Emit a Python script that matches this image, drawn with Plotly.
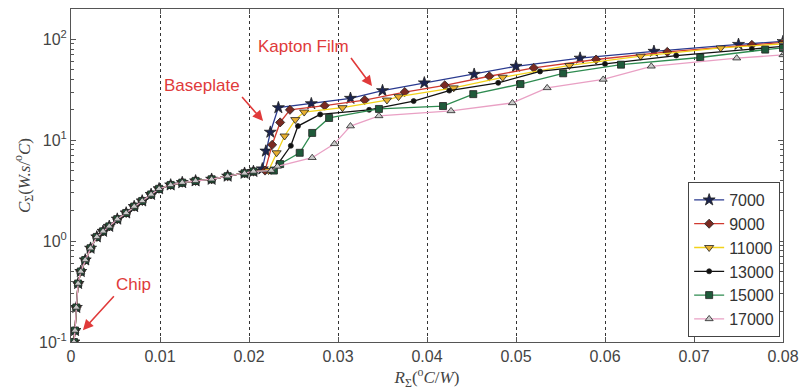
import plotly.graph_objects as go

# Shared early part of all curves (chip / plateau region)
common_x = [0.00033, 0.00045, 0.0006, 0.0008, 0.0011, 0.0016, 0.0022, 0.0029, 0.0036,
            0.0043, 0.0052, 0.0062, 0.0071, 0.008, 0.009, 0.0099, 0.0112, 0.0125,
            0.014, 0.0158, 0.0176, 0.0195, 0.0205]
common_y = [0.1, 0.13, 0.22, 0.38, 0.5, 0.65, 0.85, 1.1, 1.25,
            1.4, 1.65, 1.9, 2.2, 2.5, 2.9, 3.3, 3.6, 3.8,
            3.95, 4.1, 4.4, 4.7, 4.9]

names = ["7000", "9000", "11000", "13000", "15000", "17000"]

x_7000 = [0.0215, 0.0219, 0.0224, 0.0233, 0.027, 0.0314, 0.035, 0.0397, 0.0453, 0.05, 0.0572, 0.0655, 0.075, 0.08]
y_7000 = [5.2, 7.8, 12, 21, 23, 26, 31, 37, 45, 54, 65, 76, 89, 95]

x_9000 = [0.0218, 0.0226, 0.0235, 0.0246, 0.0285, 0.033, 0.0375, 0.042, 0.047, 0.052, 0.059, 0.067, 0.0765, 0.08]
y_9000 = [5.0, 9, 15, 20, 22, 25, 30, 35, 43, 52, 63, 75, 88, 93]

x_11000 = [0.0222, 0.0231, 0.024, 0.0252, 0.0262, 0.0305, 0.0355, 0.0368, 0.043, 0.0485, 0.056, 0.064, 0.073, 0.08]
y_11000 = [5.0, 7.5, 11, 16, 19, 21, 25, 27, 33, 42, 55, 68, 82, 90]

x_13000 = [0.0225, 0.0233, 0.0247, 0.0255, 0.028, 0.0335, 0.0385, 0.0425, 0.048, 0.0527, 0.06, 0.068, 0.0765, 0.08]
y_13000 = [4.9, 5.9, 8.8, 13.8, 18, 20, 24.4, 31, 37, 48, 57, 69, 80, 85]

x_15000 = [0.0228, 0.0235, 0.0257, 0.0271, 0.029, 0.0346, 0.0418, 0.0452, 0.0505, 0.0553, 0.0618, 0.0707, 0.078, 0.08]
y_15000 = [5.0, 5.8, 7.5, 11.8, 16.6, 20.4, 21.8, 28.6, 36, 46, 56, 66, 79, 82]

x_17000 = [0.0225, 0.0232, 0.0271, 0.0296, 0.0314, 0.0346, 0.0427, 0.0496, 0.0535, 0.0598, 0.0652, 0.0748, 0.08]
y_17000 = [5.0, 5.5, 6.7, 9.2, 13.8, 17.4, 19.5, 23.4, 33, 40, 54, 65, 70]

tails_x = [x_7000, x_9000, x_11000, x_13000, x_15000, x_17000]
tails_y = [y_7000, y_9000, y_11000, y_13000, y_15000, y_17000]

x_ticks = [0, 0.01, 0.02, 0.03, 0.04, 0.05, 0.06, 0.07, 0.08]
x_ticktext = ["0", "0.01", "0.02", "0.03", "0.04", "0.05", "0.06", "0.07", "0.08"]
y_ticks = [0.1, 1, 10, 100]
y_ticktext = ["10<sup>-1</sup>", "10<sup>0</sup>", "10<sup>1</sup>", "10<sup>2</sup>"]
y_minor = [0.2, 0.3, 0.4, 0.5, 0.6, 0.7, 0.8, 0.9, 2, 3, 4, 5, 6, 7, 8, 9,
           20, 30, 40, 50, 60, 70, 80, 90, 200]

line_colors = ["#2a3a8f", "#d03a30", "#f2d21a", "#111111", "#2e8b50", "#e9a0c4"]
marker_symbols = ["star", "diamond", "triangle-down", "circle", "square", "triangle-up"]
marker_fills = ["#1b2450", "#7a2a22", "#e8b030", "#111111", "#1f5a3a", "#c8c8c8"]
marker_sizes = [9, 7, 8, 5, 7, 7]

fig = go.Figure()
for i, n in enumerate(names):
    fig.add_trace(go.Scatter(
        x=common_x + tails_x[i], y=common_y + tails_y[i],
        mode="lines+markers", name=n,
        line=dict(color=line_colors[i], width=1.3),
        marker=dict(symbol=marker_symbols[i], size=marker_sizes[i], color=marker_fills[i],
                    line=dict(color="#222222", width=0.8)),
    ))

red = "#e03a3a"
ann = []
# (text, arrow tip x, arrow tip log10 y, tail offset px, text anchors)
for txt, xx, yy, axx, ayy, xa, ya in [
    ("Baseplate", 0.02158, 1.19, -21, -24, "right", "bottom"),
    ("Kapton Film", 0.03382, 1.536, -21, -28, "right", "bottom"),
    ("Chip", 0.001335, -0.883, 31, -34, "left", "bottom"),
]:
    ann.append(dict(x=xx, y=yy, xref="x", yref="y", text=txt, showarrow=True,
                    ax=axx, ay=ayy, xanchor=xa, yanchor=ya,
                    font=dict(family="Liberation Sans, Arial", size=17, color=red),
                    arrowcolor=red, arrowhead=2, arrowsize=1.3, arrowwidth=1.6))

fig.update_layout(
    width=807, height=390,
    margin=dict(l=71, r=17, t=8, b=48),
    paper_bgcolor="white", plot_bgcolor="white",
    showlegend=True,
    legend=dict(x=0.996, y=0.015, xanchor="right", yanchor="bottom",
                bgcolor="white", bordercolor="#444444", borderwidth=1,
                font=dict(family="Liberation Sans, Arial", size=16, color="#333333"),
                tracegroupgap=0, itemwidth=30),
    annotations=ann,
    font=dict(family="Liberation Sans, Arial", size=16, color="#444444"),
)

fig.update_xaxes(
    range=[0, 0.08], tickvals=x_ticks, ticktext=x_ticktext,
    ticks="inside", ticklen=5, tickcolor="#555555",
    showline=True, linecolor="#555555", linewidth=1, mirror="ticks",
    showgrid=True, gridcolor="#333333", griddash="dot", gridwidth=1,
    zeroline=False,
    title=dict(text="<i>R</i><sub>Σ</sub>(<sup>o</sup><i>C</i>/<i>W</i>)",
               font=dict(family="Liberation Serif, DejaVu Serif", size=17, color="#444444"),
               standoff=4),
)
fig.update_yaxes(
    type="log", range=[-1, 2.3],
    tickvals=y_ticks, ticktext=y_ticktext,
    ticks="inside", ticklen=5, tickcolor="#555555",
    minor=dict(tickvals=y_minor, ticks="inside", ticklen=3, tickcolor="#555555", showgrid=False),
    showline=True, linecolor="#555555", linewidth=1, mirror="ticks",
    showgrid=False, zeroline=False,
    title=dict(text="<i>C</i><sub>Σ</sub>(<i>W.s</i>/<sup>o</sup><i>C</i>)",
               font=dict(family="Liberation Serif, DejaVu Serif", size=17, color="#444444"),
               standoff=4),
)

fig.write_html("out.html")
